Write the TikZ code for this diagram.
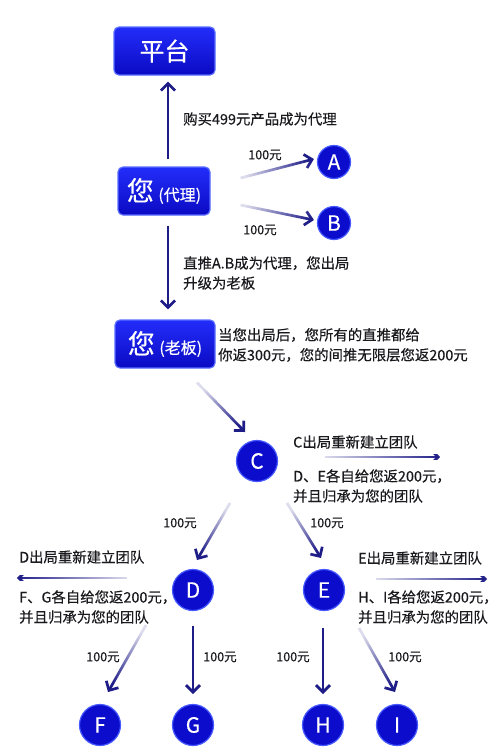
\documentclass[tikz,border=0pt]{standalone}
\usepackage{fontspec}
\setmainfont{Noto Sans CJK SC}[FakeBold=0.3]
\usetikzlibrary{arrows.meta,calc,fadings}
\definecolor{navy}{RGB}{30,28,135}
\definecolor{txt}{RGB}{25,25,30}
\definecolor{boxtop}{RGB}{35,45,250}
\definecolor{boxbot}{RGB}{10,10,195}
\definecolor{boxedge}{RGB}{90,110,255}
\definecolor{circfill}{RGB}{12,12,205}
\definecolor{circedge}{RGB}{70,90,255}
\tikzfading[name=tailfade, left color=transparent!85, middle color=transparent!25, right color=transparent!0]
\tikzset{
  box/.style={rounded corners=5pt, top color=boxtop, bottom color=boxbot, draw=boxedge,
    line width=1.2pt, minimum width=100pt, minimum height=48pt, text=white, inner sep=0pt},
  circ/.style={circle, fill=circfill, draw=circedge, line width=1.2pt, minimum size=41pt,
    text=white, font=\fontsize{21}{21}\selectfont, inner sep=0pt},
  arr/.style={draw=navy, line width=2.7pt, -{Straight Barb[length=7pt,width=14pt]}},
  farr/.style={arr, path fading=tailfade, fading angle=#1},
  lbl/.style={font=\fontsize{14.4}{20}\selectfont, text=txt, align=left, anchor=west, inner sep=0pt},
  money/.style={font=\fontsize{12.5}{12.5}\selectfont, text=txt, inner sep=0pt}
}
\begin{document}
\begin{tikzpicture}[x=1pt,y=-1pt]
\fill[white] (0,0) rectangle (500,756);
\useasboundingbox (0,0) rectangle (500,756);

% boxes
\node[box, minimum width=101pt] (pt) at (164.5,51) {\fontsize{25}{25}\selectfont 平台};
\node[box, minimum width=92pt] (dl) at (164,191) {\fontsize{27}{27}\selectfont 您\,\fontsize{16}{16}\selectfont(代理)};
\node[box] (lb) at (165,344) {\fontsize{27}{27}\selectfont 您\,\fontsize{16}{16}\selectfont(老板)};

% circles
\node[circ, minimum size=33pt] (A) at (334,162) {A};
\node[circ, minimum size=33pt] (B) at (334,223) {B};
\node[circ] (C) at (257,461) {C};
\node[circ] (D) at (193,590) {D};
\node[circ] (E) at (324,590) {E};
\node[circ] (F) at (100,725) {F};
\node[circ] (G) at (193,725) {G};
\node[circ] (H) at (323,725) {H};
\node[circ] (I) at (397,725) {I};

% texts
\node[lbl] (t1) at (183,119) {购买499元产品成为代理};
\node[lbl] (t2) at (183,273) {直推A.B成为代理，您出局\\升级为老板};
\node[lbl] (t3) at (218,345) {当您出局后，您所有的直推都给\\你返300元，您的间推无限层您返200元};
\node[lbl] (t4) at (293,442) {C出局重新建立团队};
\node[lbl] (t5) at (293,486) {D、E各自给您返200元，\\并且归承为您的团队};
\node[lbl] (t6) at (19,557) {D出局重新建立团队};
\node[lbl] (t7) at (19,607) {F、G各自给您返200元，\\并且归承为您的团队};
\node[lbl] (t8) at (358,558) {E出局重新建立团队};
\node[lbl] (t9) at (358,607) {H、I各给您返200元，\\并且归承为您的团队};

\node[money] (m1) at (265,155) {100元};
\node[money] (m2) at (260,230) {100元};
\node[money] (m3) at (180,523) {100元};
\node[money] (m4) at (327,523) {100元};
\node[money] (m5) at (103,657) {100元};
\node[money] (m6) at (220,657) {100元};
\node[money] (m7) at (293,657) {100元};
\node[money] (m8) at (405,657) {100元};

% free ends
\coordinate (cs) at ($(C)+(68,-4)$);
\coordinate (ce) at ($(C)+(183,-4)$);
\coordinate (ds) at ($(D)+(-66,-12)$);
\coordinate (de) at ($(D)+(-176,-12)$);
\coordinate (es) at ($(E)+(52,-11)$);
\coordinate (ee) at ($(E)+(163,-11)$);

% connectors
\draw[arr] ($(dl.north)+(4,-7)$) -- ($(pt.south)+(3.5,6)$);
\draw[farr=15] ($(dl.east)+(30,-13)$) -- ($(A.west)+(-3,-3)$);
\draw[farr=-12] ($(dl.east)+(30,14)$) -- ($(B.west)+(-3,-3)$);
\draw[arr] ($(dl.south)+(4,10)$) -- ($(lb.north)+(3,-10)$);
\draw[farr=-47] ($(lb.south)+(32,14)$) -- ($(C)+(-12,-29)$);
\draw[farr=0] (cs) -- (ce);
\draw[farr=-121] ($(C)+(-27,42)$) -- ($(D)+(4,-30)$);
\draw[farr=-59] ($(C)+(30,42)$) -- ($(E)+(-3,-32)$);
\draw[farr=180] (ds) -- (de);
\draw[farr=0] (es) -- (ee);
\draw[farr=-119] ($(D)+(-47,35)$) -- ($(F)+(8,-33)$);
\draw[arr] ($(D)+(0,36)$) -- ($(G)+(0,-31)$);
\draw[arr] ($(H)+(0,-97)$) -- ($(H)+(0,-31)$);
\draw[farr=-61] ($(E)+(35,38)$) -- ($(I)+(-2,-33)$);
\end{tikzpicture}
\end{document}
